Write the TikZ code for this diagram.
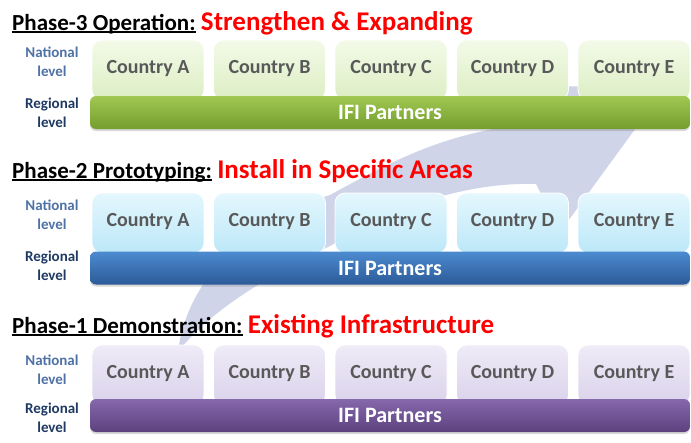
\documentclass[tikz,border=0pt]{standalone}
\usepackage{fontspec}
\setmainfont{Carlito}
\usetikzlibrary{positioning,shadows}

\definecolor{swoosh}{RGB}{207,212,233}
\definecolor{natblue}{RGB}{79,114,166}
\definecolor{regblue}{RGB}{31,58,98}
\definecolor{boxtext}{RGB}{89,89,89}
\definecolor{goalred}{RGB}{255,0,0}
\definecolor{greentop}{RGB}{243,250,232}
\definecolor{greenbot}{RGB}{220,238,195}
\definecolor{cyantop}{RGB}{228,247,253}
\definecolor{cyanbot}{RGB}{188,232,248}
\definecolor{lilactop}{RGB}{239,235,247}
\definecolor{lilacbot}{RGB}{218,210,235}
\definecolor{bargtop}{RGB}{160,200,82}
\definecolor{bargbot}{RGB}{115,157,45}
\definecolor{barbtop}{RGB}{76,139,208}
\definecolor{barbbot}{RGB}{43,90,152}
\definecolor{barptop}{RGB}{134,104,172}
\definecolor{barpbot}{RGB}{92,65,126}

\newcommand{\phaseul}[1]{\setbox0\hbox{#1}\rlap{\rule[-2.6pt]{\wd0}{1.3pt}}\box0}

\tikzset{
  title/.style={anchor=base west, inner sep=0pt, font=\fontsize{23}{27}\selectfont\bfseries},
  goal/.style={anchor=base west, inner sep=0pt, text=goalred, font=\fontsize{27}{32}\selectfont\bfseries},
  national/.style={align=center, inner sep=0pt, text=natblue, font=\fontsize{15}{19}\selectfont\bfseries},
  regional/.style={align=center, inner sep=0pt, text=regblue, font=\fontsize{15}{19}\selectfont\bfseries},
  country/.style={rounded corners=10pt, minimum width=112pt, minimum height=60pt, inner sep=0pt, outer sep=0pt,
    draw=white, line width=0.8pt, text=boxtext, text height=14pt, text depth=8pt,
    font=\fontsize{20}{24}\selectfont\bfseries},
  greenbox/.style={country, top color=greentop, bottom color=greenbot},
  cyanbox/.style={country, top color=cyantop, bottom color=cyanbot},
  lilacbox/.style={country, top color=lilactop, bottom color=lilacbot},
  bar/.style={rounded corners=6pt, minimum width=600pt, minimum height=33pt, inner sep=0pt,
    text=white, text height=14pt, text depth=0pt, font=\fontsize{22}{26}\selectfont\bfseries,
    drop shadow={shadow xshift=0pt, shadow yshift=-2pt, opacity=0.3}},
  greenbar/.style={bar, top color=bargtop, bottom color=bargbot},
  bluebar/.style={bar, top color=barbtop, bottom color=barbbot},
  purplebar/.style={bar, top color=barptop, bottom color=barpbot}
}

\begin{document}
\begin{tikzpicture}[x=1pt, y=-1pt]
    \useasboundingbox (0, 0) rectangle (691, 442);
    \fill[white] (0, 0) rectangle (691, 442);

    % curved arrow behind the phases
    \fill[swoosh] (178, 352) .. controls (185, 290) and (235, 225) .. (330, 195)
        .. controls (390, 162) and (440, 136) .. (512, 126)
        -- (490, 85) -- (665, 88) -- (560, 232) -- (536, 184)
        .. controls (470, 182) and (395, 205) .. (332, 245)
        .. controls (270, 275) and (210, 310) .. (178, 352) -- cycle;

    % phase 3
    \node (t3) [title] at (12, 30) {\phaseul{Phase-3 Operation:}};
    \node (g3) [goal, right=5pt of t3.base east, anchor=base west] {Strengthen \& Expanding};
    \node (nat3) [national] at (52, 62) {National\\level};
    \node (reg3) [regional] at (52, 113) {Regional\\level};
    \node (ca3) [greenbox] at (148, 70) {Country A};
    \node (cb3) [greenbox, right=9.5pt of ca3] {Country B};
    \node (cc3) [greenbox, right=9.5pt of cb3] {Country C};
    \node (cd3) [greenbox, right=9.5pt of cc3] {Country D};
    \node (ce3) [greenbox, right=9.5pt of cd3] {Country E};
    \node (ifi3) [greenbar] at (390, 112.5) {IFI Partners};

    % phase 2
    \node (t2) [title] at (12, 178) {\phaseul{Phase-2 Prototyping:}};
    \node (g2) [goal, right=5pt of t2.base east, anchor=base west] {Install in Specific Areas};
    \node (nat2) [national] at (52, 215) {National\\level};
    \node (reg2) [regional] at (52, 266) {Regional\\level};
    \node (ca2) [cyanbox] at (148, 223) {Country A};
    \node (cb2) [cyanbox, right=9.5pt of ca2] {Country B};
    \node (cc2) [cyanbox, right=9.5pt of cb2] {Country C};
    \node (cd2) [cyanbox, right=9.5pt of cc2] {Country D};
    \node (ce2) [cyanbox, right=9.5pt of cd2] {Country E};
    \node (ifi2) [bluebar] at (390, 268) {IFI Partners};

    % phase 1
    \node (t1) [title] at (12, 333) {\phaseul{Phase-1 Demonstration:}};
    \node (g1) [goal, right=5pt of t1.base east, anchor=base west] {Existing Infrastructure};
    \node (nat1) [national] at (52, 370) {National\\level};
    \node (reg1) [regional] at (52, 418) {Regional\\level};
    \node (ca1) [lilacbox] at (148, 375) {Country A};
    \node (cb1) [lilacbox, right=9.5pt of ca1] {Country B};
    \node (cc1) [lilacbox, right=9.5pt of cb1] {Country C};
    \node (cd1) [lilacbox, right=9.5pt of cc1] {Country D};
    \node (ce1) [lilacbox, right=9.5pt of cd1] {Country E};
    \node (ifi1) [purplebar] at (390, 415.5) {IFI Partners};
\end{tikzpicture}
\end{document}
